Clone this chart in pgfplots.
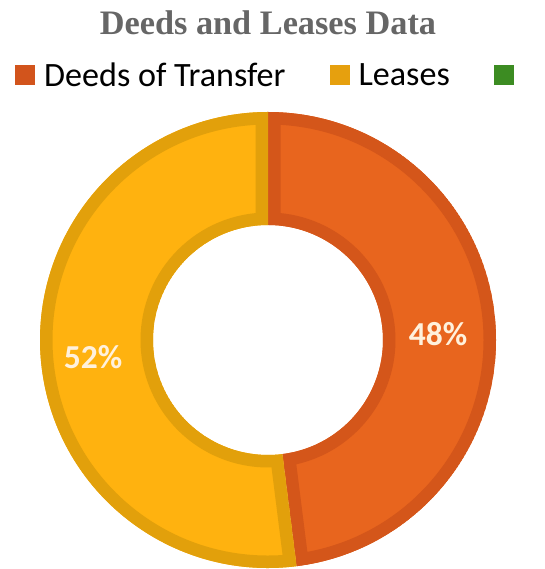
\documentclass[border=0pt]{standalone}
\usepackage{pgfplots}
\pgfplotsset{compat=1.18}
\usepackage{pgfplotstable}
\usetikzlibrary{calc}
\usepackage{fontspec}
\setmainfont{Carlito}
\newfontfamily\titlefont{Liberation Serif}
\definecolor{deedfill}{HTML}{E8651E}
\definecolor{deededge}{HTML}{D4561A}
\definecolor{leasefill}{HTML}{FFB20F}
\definecolor{leaseedge}{HTML}{E2A00B}
\definecolor{deedsq}{HTML}{D2541C}
\definecolor{leasesq}{HTML}{E6A00E}
\definecolor{greensq}{HTML}{3C8C22}
\definecolor{titlegrey}{HTML}{666666}
\definecolor{labelcream}{HTML}{FFF1DC}

\pgfplotstableread{
share
48
52
}\donutdata

\newcommand\wedgepath[2]{(c) ++(#1:228pt) arc[start angle=#1,end angle=#2,radius=228pt] -- ($(c)+(#2:115pt)$) arc[start angle=#2,end angle=#1,radius=115pt] -- cycle}
\newcommand\drawwedge[4]{%
  \begin{scope}
    \clip \wedgepath{#1}{#2};
    \fill[#3] \wedgepath{#1}{#2};
    \draw[#4,line width=25pt,overlay] \wedgepath{#1}{#2};
  \end{scope}}

\begin{document}
\begin{tikzpicture}
\pgfplotstablegetelem{0}{share}\of\donutdata \pgfmathtruncatemacro\va{\pgfplotsretval}
\pgfplotstablegetelem{1}{share}\of\donutdata \pgfmathtruncatemacro\vb{\pgfplotsretval}
\pgfmathsetmacro\frac{\va/(\va+\vb)}
\pgfmathsetmacro\aB{90-360*\frac}
\begin{axis}[
  x=1pt, y=1pt, xmin=0, xmax=544, ymin=0, ymax=569,
  disabledatascaling, hide axis, clip=false,
  legend columns=3,
  legend style={draw=none, fill=none, at={(axis cs:15,494)}, anchor=west,
    font=\fontsize{34.1}{34.1}\selectfont, inner sep=0pt,
    /tikz/every even column/.append style={column sep=44pt},
    /tikz/every odd column/.append style={column sep=9pt},
    nodes={inner sep=0pt}},
  legend image code/.code={\fill[#1,draw=none] (0pt,-10pt) rectangle (20pt,10pt);},
]
\coordinate (bl) at (axis cs:0,0);
\coordinate (tr) at (axis cs:544,569);
\addlegendimage{fill=deedsq,draw=none}
\addlegendentry{Deeds of Transfer}
\addlegendimage{fill=leasesq,draw=none}
\addlegendentry{Leases}
\addlegendimage{fill=greensq,draw=none}
\addlegendentry{}

\coordinate (c) at (axis cs:268,229);
\drawwedge{90}{\aB}{deedfill}{deededge}
\drawwedge{\aB}{-270}{leasefill}{leaseedge}

\node[labelcream, font=\bfseries\fontsize{33.5}{33.5}\selectfont] at (axis cs:438,235) {\va\%};
\node[labelcream, font=\bfseries\fontsize{33.5}{33.5}\selectfont] at (axis cs:93,212) {\vb\%};

\node[titlegrey, font=\titlefont\bfseries\fontsize{34.3}{34.3}\selectfont, anchor=base] at (axis cs:268,534) {Deeds and Leases Data};
\end{axis}
\pgfresetboundingbox
\useasboundingbox (bl) rectangle (tr);
\end{tikzpicture}
\end{document}
